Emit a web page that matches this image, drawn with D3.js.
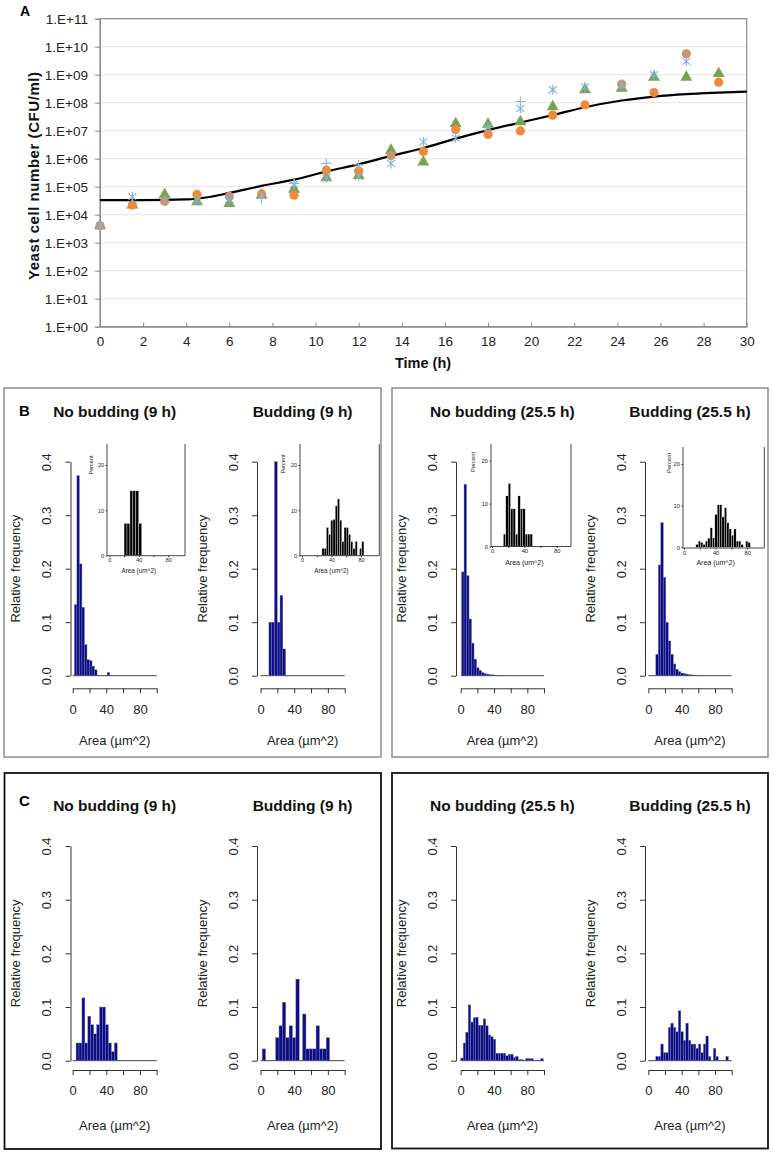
<!DOCTYPE html>
<html><head><meta charset="utf-8">
<script src="https://cdn.jsdelivr.net/npm/d3@7"></script>
<style>body{margin:0;background:#fff}svg{display:block}</style>
</head><body>
<svg id="fig" width="773" height="1154"></svg>
<script>
// ---------------- DATA ----------------
// Panel A: growth curve
const timesH = [0,1.5,3,4.5,6,7.5,9,10.5,12,13.5,15,16.5,18,19.5,21,22.5,24.2,25.7,27.2,28.7];
const asteriskCFU = [4e3,4.4e4,3.2e4,3.2e4,3.5e4,4.8e4,1.2e5,2.1e5,2.3e5,6.8e5,4.0e6,5.4e6,1.3e7,6.3e7,2.9e8,3.6e8,4.2e8,1.0e9,3.0e9,null];
const plusCFU     = [null,null,null,null,null,3.8e4,1.3e5,6.8e5,6.0e5,null,null,null,null,1.1e8,null,null,null,null,null,null];
const triangleCFU = [4e3,2.2e4,5.2e4,2.9e4,2.5e4,5.0e4,8.0e4,2.1e5,2.5e5,2.0e6,7.6e5,1.8e7,1.7e7,2.1e7,7.2e7,2.9e8,3.3e8,8.1e8,8.1e8,1.1e9];
const circleOrangeCFU = [null,2.2e4,3.0e4,5.3e4,null,5.5e4,5.0e4,3.9e5,3.6e5,null,1.8e6,1.1e7,7.4e6,9.8e6,3.6e7,8.3e7,null,2.3e8,null,5.4e8];
const circleBrownCFU  = [4e3,null,null,null,4.5e4,null,null,null,null,1.3e6,null,null,null,null,null,null,4.6e8,null,5.6e9,null];
const fitTimeH = [0,2,4,5,6,7.5,9,10.5,12,13.5,15,16.5,18,19.5,21,22.5,24.2,25.7,27.2,28.7,30];
const fitCFU   = [3.3e4,3.3e4,3.5e4,4.2e4,6.0e4,1.07e5,1.78e5,3.5e5,6.3e5,1.26e6,2.4e6,5.2e6,1.05e7,1.95e7,3.6e7,6.9e7,1.2e8,1.66e8,2.04e8,2.3e8,2.5e8];
const yTicksA = [1,1e1,1e2,1e3,1e4,1e5,1e6,1e7,1e8,1e9,1e10,1e11];
const xTicksA = [0,2,4,6,8,10,12,14,16,18,20,22,24,26,28,30];

// Histograms (relative frequency), bins: start, width
const titles = ["No budding (9 h)","Budding (9 h)","No budding (25.5 h)","Budding (25.5 h)"];
const histYTicks = [0,0.1,0.2,0.3,0.4];
const histXTicks = [0,20,40,60,80,100];
const histXLabels = [0,40,80];

const bNoBud9Start = 2,  bNoBud9Width = 3;
const bNoBud9Freq = [0.133,0.374,0.209,0.128,0.058,0.03,0.028,0.018,0.011,0,0,0,0,0.006];
const bBud9Start = 10, bBud9Width = 3.3;
const bBud9Freq = [0.1,0.1,0.4,0.1,0.15,0.05];
const bNoBud25Start = 1, bNoBud25Width = 3;
const bNoBud25Freq = [0.194,0.358,0.187,0.106,0.061,0.031,0.015,0.01,0.006,0.004,0.003,0.002,0.0015,0.001,0.001,0.0008,0.0006,0.0005,0.0004,0.0003,0.0003,0.0002,0.0002];
const bBud25Start = 9, bBud25Width = 3;
const bBud25Freq = [0.04,0.207,0.286,0.184,0.1,0.065,0.04,0.022,0.012,0.008,0.005,0.004,0.003,0.002,0.0015,0.001,0.001,0.0008,0.0005,0.0004];

const cNoBud9Start = 4, cNoBud9Width = 3.5;
const cNoBud9Freq = [0.033,0.033,0.117,0.033,0.083,0.067,0.05,0.067,0.1,0.1,0.067,0.033,0.017,0.033];
const cBud9Start = 2, cBud9Width = 4;
const cBud9Freq = [0.022,0,0,0,0.043,0.065,0.109,0.043,0.065,0.043,0.152,0,0.087,0.022,0.022,0.022,0.065,0.022,0.022,0.043];
const cNoBud25Start = 0, cNoBud25Width = 3;
const cNoBud25Freq = [0.005,0.033,0.053,0.104,0.072,0.08,0.081,0.066,0.066,0.078,0.065,0.048,0.045,0.04,0.014,0.014,0.014,0.014,0.009,0.012,0.012,0.006,0.008,0.002,0.002,0.001,0.004,0.004,0.004,0.001,0.001,0.001,0.004];
const cBud25Start = 9, cBud25Width = 3;
const cBud25Freq = [0.008,0.008,0.031,0.015,0.015,0.062,0.07,0.062,0.054,0.093,0.054,0.038,0.07,0.038,0.031,0.031,0.023,0.031,0.015,0.031,0.046,0.008,0,0.023,0.008,0,0,0,0.008];

// Insets (percent)
const insetYTicks = [0,10,20];
const insetXTicks = [0,20,40,60,80];
const insetXLabels = [0,40,80];
const in1Start = 20, in1Width = 4;
const in1Pct = [7.1,7.1,14.3,14.3,14.3,7.1];
const in2Start = 27, in2Width = 3;
const in2Pct = [1.6,1.6,6.2,4.7,7.8,8.0,11.0,12.5,7.8,3.1,6.2,6.2,4.7,3.1,1.6,3.1,0,1.6,3.1];
const in3Start = 14, in3Width = 3;
const in3Pct = [2.9,11.8,14.7,8.8,8.8,2.9,11.8,8.8,8.8,2.9,2.9,2.9];
const in4Start = 15, in4Width = 3;
const in4Pct = [0.7,1.5,1.2,0.7,1.5,2.2,4.7,2.3,7.9,10.2,10.2,7.3,9.5,5.9,4.4,2.9,4.4,1.5,1.5,0.7,0,1.5,1.2];

// ---------------- DRAW ----------------
const FONT = '"Liberation Sans", Arial, Helvetica, sans-serif';
const svg = d3.select("#fig");
svg.append("rect").attr("width",773).attr("height",1154).attr("fill","#fff");

function styleAxis(g, color, fs, fill){
  g.attr("font-family", FONT);
  g.select(".domain").attr("stroke", color);
  g.selectAll(".tick line").attr("stroke", color);
  g.selectAll(".tick text").attr("font-size", fs).attr("font-family", FONT).attr("fill", fill);
}

// ===== Panel A =====
const gA = svg.append("g");
const xA = d3.scaleLinear().domain([0,30]).range([100,746.7]);
const yA = d3.scaleLog().domain([1,1e11]).range([326.7,18.7]);

gA.selectAll("line.grid").data(yTicksA.slice(1,-1)).join("line")
  .attr("x1",xA(0)).attr("x2",xA(30)).attr("y1",d=>yA(d)).attr("y2",d=>yA(d))
  .attr("stroke","#e6e6e6").attr("stroke-width",1);
gA.append("rect").attr("x",xA(0)).attr("y",yA(1e11))
  .attr("width",xA(30)-xA(0)).attr("height",yA(1)-yA(1e11))
  .attr("fill","none").attr("stroke","#8a8a8a").attr("stroke-width",1.2);

gA.append("g").attr("transform",`translate(${xA(0)},0)`)
  .call(d3.axisLeft(yA).tickValues(yTicksA)
    .tickFormat(d=>"1.E+"+String(Math.round(Math.log10(d))).padStart(2,"0"))
    .tickSize(5).tickPadding(7))
  .call(g=>styleAxis(g,"#8a8a8a",13.5,"#222"));

gA.append("g").attr("transform",`translate(0,${yA(1)})`)
  .call(d3.axisBottom(xA).tickValues(xTicksA).tickSizeInner(-4).tickSizeOuter(0).tickPadding(10))
  .call(g=>styleAxis(g,"#8a8a8a",13.5,"#222"));

gA.append("text").attr("x",423).attr("y",368).attr("text-anchor","middle")
  .attr("font-family",FONT).attr("font-weight","bold").attr("font-size",14.5).attr("fill","#111")
  .text("Time (h)");
gA.append("text").attr("transform","translate(34,176) rotate(-90)").attr("dy","0.35em")
  .attr("text-anchor","middle").attr("font-family",FONT).attr("font-weight","bold")
  .attr("font-size",15).attr("fill","#111").attr("textLength",208).attr("lengthAdjust","spacing")
  .text("Yeast cell number (CFU/ml)");
svg.append("text").attr("x",20).attr("y",16).attr("font-family",FONT).attr("font-weight","bold")
  .attr("font-size",14).text("A");

// fit line
const fitPts = fitTimeH.map((t,i)=>({t, v:fitCFU[i]}));
gA.append("path").datum(fitPts)
  .attr("d", d3.line().x(d=>xA(d.t)).y(d=>yA(d.v)).curve(d3.curveMonotoneX))
  .attr("fill","none").attr("stroke","#000").attr("stroke-width",2.2);

function pts(arr){ return timesH.map((t,i)=>({t, v:arr[i]})).filter(d=>d.v!=null); }
// triangles
gA.append("g").selectAll("path").data(pts(triangleCFU)).join("path")
  .attr("transform",d=>`translate(${xA(d.t)},${yA(d.v)})`)
  .attr("d", d3.symbol(d3.symbolTriangle, 62))
  .attr("fill","#77a44e");
// orange circles
gA.append("g").selectAll("circle").data(pts(circleOrangeCFU)).join("circle")
  .attr("cx",d=>xA(d.t)).attr("cy",d=>yA(d.v)).attr("r",4.6).attr("fill","#ee8a3a");
gA.append("g").selectAll("circle").data(pts(circleBrownCFU)).join("circle")
  .attr("cx",d=>xA(d.t)).attr("cy",d=>yA(d.v)).attr("r",4.6).attr("fill","#cf8f68");
// asterisks
const s=5;
gA.append("g").selectAll("path").data(pts(asteriskCFU)).join("path")
  .attr("transform",d=>`translate(${xA(d.t)},${yA(d.v)})`)
  .attr("d",`M0,${-s}V${s}M${-s*0.8},${-s*0.7}L${s*0.8},${s*0.7}M${-s*0.8},${s*0.7}L${s*0.8},${-s*0.7}`)
  .attr("fill","none").attr("stroke","#7fb2da").attr("stroke-width",1.1);
gA.append("g").selectAll("path").data(pts(plusCFU)).join("path")
  .attr("transform",d=>`translate(${xA(d.t)},${yA(d.v)})`)
  .attr("d",`M${-s},0H${s}M0,${-s}V${s}`)
  .attr("fill","none").attr("stroke","#8db7dd").attr("stroke-width",1.1);

// ===== Boxes =====
svg.append("rect").attr("x",4).attr("y",388).attr("width",377).attr("height",369)
  .attr("fill","none").attr("stroke","#8c8c8c").attr("stroke-width",1.5);
svg.append("rect").attr("x",392).attr("y",388).attr("width",376).attr("height",369)
  .attr("fill","none").attr("stroke","#8c8c8c").attr("stroke-width",1.5);
svg.append("rect").attr("x",4.5).attr("y",773).attr("width",376.5).attr("height",376)
  .attr("fill","none").attr("stroke","#111").attr("stroke-width",1.8);
svg.append("rect").attr("x",392).attr("y",773).attr("width",376).attr("height",375.5)
  .attr("fill","none").attr("stroke","#111").attr("stroke-width",1.8);
svg.append("text").attr("x",19).attr("y",416).attr("font-family",FONT).attr("font-weight","bold").attr("font-size",15).text("B");
svg.append("text").attr("x",19).attr("y",806).attr("font-family",FONT).attr("font-weight","bold").attr("font-size",15).text("C");

// ===== Histograms =====
const cols = [
  {axX:70.5, x0:72.7, x100:156.7},
  {axX:257,  x0:260.5, x100:344.7},
  {axX:456,  x0:460.7, x100:544},
  {axX:645,  x0:648.3, x100:731.7}
];
const rowB = {y0:675.7, y04:461.7, xAxisY:688.3, titleY:416.5, areaY:744.5};
const rowC = {y0:1060.7, y04:846, xAxisY:1070, titleY:810.5, areaY:1129.5};

function mainHist(col, row, start, width, freq, title){
  const g = svg.append("g");
  const x = d3.scaleLinear().domain([0,100]).range([col.x0, col.x100]);
  const y = d3.scaleLinear().domain([0,0.4]).range([row.y0, row.y04]);
  const bins = freq.map((f,i)=>({lo:start+i*width, hi:start+(i+1)*width, f})).filter(b=>b.f>0);
  g.append("line").attr("x1",x(0)).attr("x2",x(100)).attr("y1",y(0)).attr("y2",y(0))
    .attr("stroke","#444").attr("stroke-width",1);
  g.selectAll("rect").data(bins).join("rect")
    .attr("x",b=>x(b.lo)).attr("width",b=>x(b.hi)-x(b.lo))
    .attr("y",b=>y(b.f)).attr("height",b=>y(0)-y(b.f))
    .attr("fill","#0d0d84").attr("stroke","#7c7cb8").attr("stroke-width",0.4);
  g.append("g").attr("transform",`translate(${col.axX},0)`)
    .call(d3.axisLeft(y).tickValues(histYTicks).tickFormat(d3.format(".1f")).tickSize(5).tickSizeOuter(0))
    .call(gg=>{ styleAxis(gg,"#333",13,"#222");
      gg.selectAll(".tick text").attr("x",0).attr("y",-24).attr("dy","0.35em")
        .attr("text-anchor","middle").attr("transform","rotate(-90)"); });
  g.append("g").attr("transform",`translate(0,${row.xAxisY})`)
    .call(d3.axisBottom(x).tickValues(histXTicks).tickFormat(d=>histXLabels.includes(d)?d:"")
      .tickSize(5).tickSizeOuter(0).tickPadding(11))
    .call(gg=>styleAxis(gg,"#333",13,"#222"));
  g.append("text").attr("transform",`translate(${col.axX-55},${(row.y0+row.y04)/2}) rotate(-90)`)
    .attr("dy","0.35em").attr("text-anchor","middle").attr("font-family",FONT)
    .attr("font-size",13).attr("fill","#222").text("Relative frequency");
  g.append("text").attr("x",(col.x0+col.x100)/2).attr("y",row.areaY).attr("text-anchor","middle")
    .attr("font-family",FONT).attr("font-size",13).attr("fill","#222").text("Area (\u00b5m^2)");
  g.append("text").attr("x",(col.x0+col.x100)/2).attr("y",row.titleY).attr("text-anchor","middle")
    .attr("font-family",FONT).attr("font-weight","bold").attr("font-size",15.5).attr("fill","#111").text(title);
}

mainHist(cols[0], rowB, bNoBud9Start, bNoBud9Width, bNoBud9Freq, titles[0]);
mainHist(cols[1], rowB, bBud9Start, bBud9Width, bBud9Freq, titles[1]);
mainHist(cols[2], rowB, bNoBud25Start, bNoBud25Width, bNoBud25Freq, titles[2]);
mainHist(cols[3], rowB, bBud25Start, bBud25Width, bBud25Freq, titles[3]);
mainHist(cols[0], rowC, cNoBud9Start, cNoBud9Width, cNoBud9Freq, titles[0]);
mainHist(cols[1], rowC, cBud9Start, cBud9Width, cBud9Freq, titles[1]);
mainHist(cols[2], rowC, cNoBud25Start, cNoBud25Width, cNoBud25Freq, titles[2]);
mainHist(cols[3], rowC, cBud25Start, cBud25Width, cBud25Freq, titles[3]);

// ===== Insets =====
const insets = [
  {left:107, right:185, top:444, bottom:555.7, x0:109.3, ppu:0.7375, y0:555.5, y20:465,
   pX:91, pY:465, tickY:561.5, areaY:573, fs:5.5, afs:6.3},
  {left:300, right:379.3, top:444, bottom:555.7, x0:302, ppu:0.7375, y0:555.5, y20:465,
   pX:283.5, pY:464, tickY:561.5, areaY:573, fs:5.5, afs:6.3},
  {left:491, right:571, top:444, bottom:546.5, x0:492, ppu:0.809, y0:546.5, y20:460.7,
   pX:473, pY:462, tickY:553, areaY:565, fs:5.8, afs:7},
  {left:683, right:764.3, top:447, bottom:548, x0:684, ppu:0.79, y0:547.3, y20:464,
   pX:668.5, pY:463, tickY:554, areaY:565, fs:5.8, afs:7}
];
function insetHist(c, start, width, pct){
  const g = svg.append("g");
  const x = d3.scaleLinear().domain([0,80]).range([c.x0, c.x0+80*c.ppu]);
  const y = d3.scaleLinear().domain([0,20]).range([c.y0, c.y20]);
  const bins = pct.map((p,i)=>({lo:start+i*width, hi:start+(i+1)*width, p})).filter(b=>b.p>0);
  g.selectAll("rect").data(bins).join("rect")
    .attr("x",b=>x(b.lo)).attr("width",b=>x(b.hi)-x(b.lo))
    .attr("y",b=>y(b.p)).attr("height",b=>y(0)-y(b.p))
    .attr("fill","#000").attr("stroke","#fff").attr("stroke-width",0.35);
  g.append("path").attr("d",`M${c.left},${c.top}V${c.bottom}H${c.right}V${c.top}`)
    .attr("fill","none").attr("stroke","#333").attr("stroke-width",0.9);
  g.append("g").attr("transform",`translate(${c.left},0)`)
    .call(d3.axisLeft(y).tickValues(insetYTicks).tickSize(1.5).tickSizeOuter(0).tickPadding(1.5))
    .call(gg=>{ styleAxis(gg,"#333",c.fs,"#222"); gg.select(".domain").remove(); });
  g.append("g").attr("transform",`translate(0,${c.bottom})`)
    .call(d3.axisBottom(x).tickValues(insetXTicks).tickFormat(d=>insetXLabels.includes(d)?d:"")
      .tickSize(1.5).tickSizeOuter(0).tickPadding(1))
    .call(gg=>{ styleAxis(gg,"#333",c.fs,"#222"); gg.select(".domain").remove(); });
  g.append("text").attr("transform",`translate(${c.pX},${c.pY}) rotate(-90)`).attr("dy","0.35em")
    .attr("text-anchor","middle").attr("font-family",FONT).attr("font-size",c.fs)
    .attr("fill","#222").text("Percent");
  g.append("text").attr("x",x(40)).attr("y",c.areaY).attr("text-anchor","middle")
    .attr("font-family",FONT).attr("font-size",c.afs).attr("fill","#222").text("Area (um^2)");
}
insetHist(insets[0], in1Start, in1Width, in1Pct);
insetHist(insets[1], in2Start, in2Width, in2Pct);
insetHist(insets[2], in3Start, in3Width, in3Pct);
insetHist(insets[3], in4Start, in4Width, in4Pct);
</script>
</body></html>
